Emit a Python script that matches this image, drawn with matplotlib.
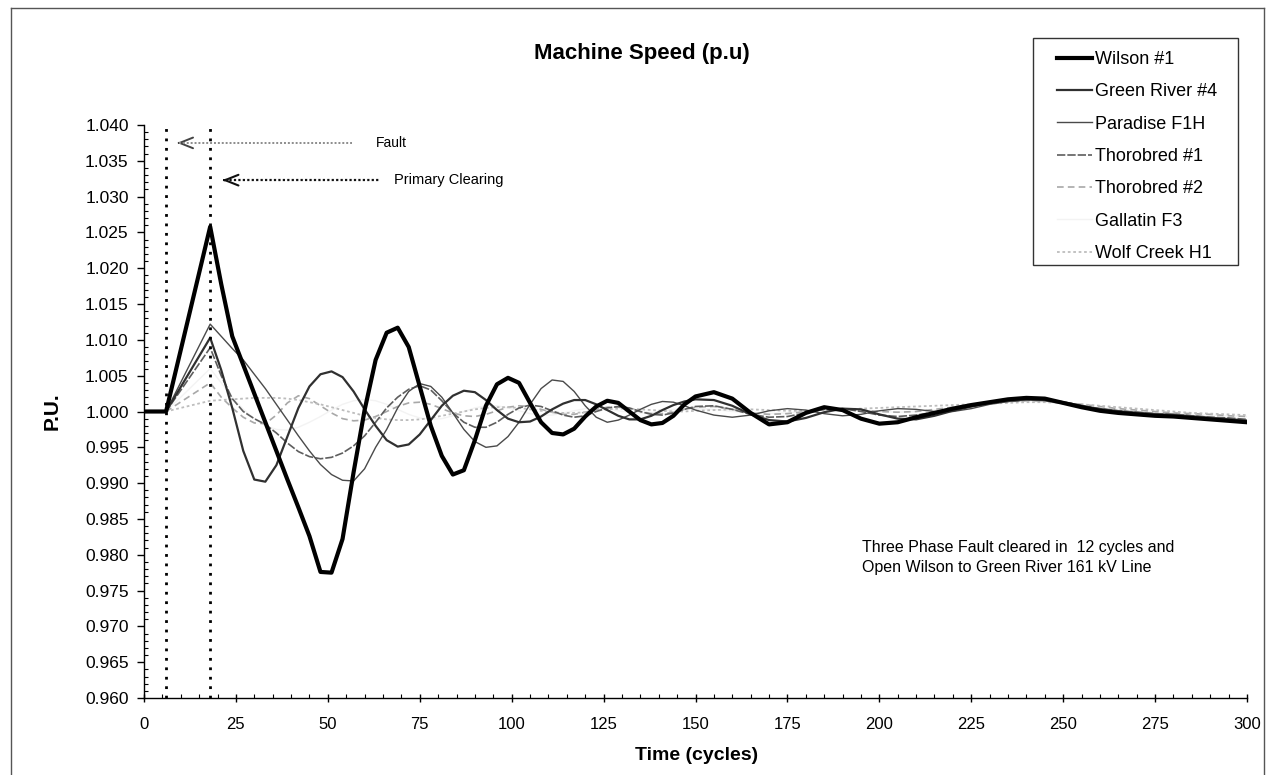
import matplotlib
matplotlib.use('Agg')
import matplotlib.pyplot as plt
from matplotlib.ticker import MultipleLocator, FormatStrFormatter
from matplotlib.patches import Rectangle
from matplotlib.lines import Line2D

plt.rcParams['font.family'] = ['Liberation Sans', 'DejaVu Sans']

# ---------------- data ----------------
cycles = [0, 6] + list(range(18, 151, 3)) + list(range(155, 301, 5))

wilson_1 = [1.0000, 1.0000, 1.0258, 1.0178, 1.0105, 1.0065, 1.0025, 0.9985, 0.9945, 0.9905,
            0.9866, 0.9826, 0.9776, 0.9775, 0.9822, 0.9915, 1.0002, 1.0072, 1.0110, 1.0117,
            1.0090, 1.0035, 0.9980, 0.9938, 0.9912, 0.9918, 0.9960, 1.0008, 1.0038, 1.0047,
            1.0040, 1.0012, 0.9985, 0.9970, 0.9968, 0.9976, 0.9993, 1.0007, 1.0015, 1.0012,
            1.0000, 0.9988, 0.9982, 0.9984, 0.9994, 1.0010, 1.0021,
            1.0027, 1.0018, 0.9998, 0.9982, 0.9985, 0.9998, 1.0006, 1.0002, 0.9990, 0.9983,
            0.9985, 0.9992, 0.9998, 1.0004, 1.0009, 1.0013, 1.0017, 1.0019, 1.0018, 1.0012,
            1.0006, 1.0001, 0.9998, 0.9996, 0.9994, 0.9993, 0.9991, 0.9989, 0.9987, 0.9985]

green_river_4 = [1.0000, 1.0000, 1.0103, 1.0058, 1.0005, 0.9945, 0.9905, 0.9902, 0.9925, 0.9965,
                 1.0005, 1.0035, 1.0052, 1.0056, 1.0048, 1.0028, 1.0003, 0.9980, 0.9960, 0.9951,
                 0.9954, 0.9968, 0.9988, 1.0008, 1.0022, 1.0029, 1.0027, 1.0016, 1.0002, 0.9990,
                 0.9985, 0.9986, 0.9993, 1.0003, 1.0011, 1.0016, 1.0016, 1.0010, 1.0002, 0.9994,
                 0.9989, 0.9989, 0.9994, 1.0002, 1.0009, 1.0014, 1.0017,
                 1.0016, 1.0008, 0.9996, 0.9988, 0.9986, 0.9991, 0.9999, 1.0004, 1.0003, 0.9996,
                 0.9990, 0.9989, 0.9994, 1.0001, 1.0007, 1.0012, 1.0016, 1.0018, 1.0017, 1.0013,
                 1.0008, 1.0003, 1.0000, 0.9997, 0.9995, 0.9994, 0.9992, 0.9990, 0.9988, 0.9986]

paradise_f1h = [1.0000, 1.0000, 1.0122, 1.0105, 1.0088, 1.0072, 1.0052, 1.0032, 1.0010, 0.9988,
                0.9966, 0.9945, 0.9926, 0.9912, 0.9904, 0.9903, 0.9920, 0.9950, 0.9975, 1.0005,
                1.0028, 1.0039, 1.0035, 1.0020, 0.9998, 0.9975, 0.9958, 0.9950, 0.9952, 0.9965,
                0.9985, 1.0010, 1.0032, 1.0044, 1.0042, 1.0028, 1.0008, 0.9992, 0.9985, 0.9988,
                0.9995, 1.0003, 1.0010, 1.0014, 1.0013, 1.0008, 1.0002,
                0.9995, 0.9992, 0.9995, 1.0001, 1.0004, 1.0002, 0.9997, 0.9994, 0.9996, 1.0001,
                1.0004, 1.0003, 1.0000, 1.0000, 1.0004, 1.0010, 1.0014, 1.0016, 1.0015, 1.0011,
                1.0007, 1.0004, 1.0001, 0.9999, 0.9997, 0.9996, 0.9994, 0.9992, 0.9990, 0.9988]

thorobred_1 = [1.0000, 1.0000, 1.0089, 1.0050, 1.0018, 1.0000, 0.9990, 0.9982, 0.9970, 0.9956,
               0.9944, 0.9937, 0.9934, 0.9936, 0.9942, 0.9952, 0.9966, 0.9985, 1.0005, 1.0020,
               1.0031, 1.0036, 1.0030, 1.0015, 0.9998, 0.9985, 0.9978, 0.9978, 0.9985, 0.9996,
               1.0005, 1.0009, 1.0007, 1.0001, 0.9995, 0.9992, 0.9994, 1.0000, 1.0005, 1.0007,
               1.0005, 1.0000, 0.9996, 0.9995, 0.9998, 1.0003, 1.0007,
               1.0008, 1.0003, 0.9996, 0.9992, 0.9993, 0.9998, 1.0003, 1.0004, 1.0000, 0.9995,
               0.9993, 0.9995, 0.9999, 1.0003, 1.0007, 1.0011, 1.0014, 1.0016, 1.0016, 1.0012,
               1.0008, 1.0004, 1.0001, 0.9999, 0.9997, 0.9996, 0.9994, 0.9992, 0.9991, 0.9989]

thorobred_2 = [1.0000, 1.0000, 1.0040, 1.0020, 1.0005, 0.9992, 0.9984, 0.9983, 0.9995, 1.0012,
               1.0022, 1.0018, 1.0008, 0.9998, 0.9990, 0.9987, 0.9988, 0.9993, 1.0000, 1.0007,
               1.0012, 1.0013, 1.0010, 1.0004, 0.9998, 0.9994, 0.9993, 0.9996, 1.0001, 1.0006,
               1.0008, 1.0007, 1.0003, 0.9999, 0.9996, 0.9996, 0.9999, 1.0003, 1.0006, 1.0006,
               1.0004, 1.0000, 0.9997, 0.9997, 0.9999, 1.0003, 1.0006,
               1.0007, 1.0003, 0.9998, 0.9996, 0.9997, 1.0000, 1.0003, 1.0004, 1.0002, 1.0000,
               0.9999, 1.0000, 1.0003, 1.0006, 1.0009, 1.0012, 1.0014, 1.0015, 1.0015, 1.0013,
               1.0010, 1.0007, 1.0004, 1.0002, 1.0000, 0.9998, 0.9997, 0.9996, 0.9994, 0.9993]

gallatin_f3 = [1.0000, 1.0000, 1.0060, 1.0040, 1.0020, 1.0003, 0.9990, 0.9980, 0.9975, 0.9974,
               0.9978, 0.9985, 0.9993, 1.0002, 1.0010, 1.0015, 1.0017, 1.0015, 1.0010, 1.0003,
               0.9996, 0.9991, 0.9989, 0.9990, 0.9994, 1.0000, 1.0005, 1.0008, 1.0008, 1.0005,
               1.0001, 0.9997, 0.9995, 0.9995, 0.9998, 1.0001, 1.0004, 1.0005, 1.0004, 1.0001,
               0.9999, 0.9998, 0.9998, 1.0000, 1.0003, 1.0004, 1.0004,
               1.0003, 1.0000, 0.9998, 0.9997, 0.9998, 1.0000, 1.0002, 1.0003, 1.0002, 1.0000,
               0.9999, 1.0000, 1.0002, 1.0005, 1.0008, 1.0011, 1.0013, 1.0014, 1.0013, 1.0011,
               1.0008, 1.0005, 1.0003, 1.0001, 0.9999, 0.9998, 0.9996, 0.9995, 0.9994, 0.9993]

wolf_creek_h1 = [1.0000, 1.0000, 1.0015, 1.0016, 1.0017, 1.0018, 1.0019, 1.0019, 1.0019, 1.0018,
                 1.0016, 1.0013, 1.0010, 1.0006, 1.0002, 0.9998, 0.9994, 0.9991, 0.9989, 0.9988,
                 0.9988, 0.9989, 0.9991, 0.9994, 0.9997, 1.0000, 1.0003, 1.0005, 1.0006, 1.0006,
                 1.0005, 1.0003, 1.0001, 0.9999, 0.9998, 0.9998, 0.9999, 1.0001, 1.0003, 1.0004,
                 1.0004, 1.0003, 1.0002, 1.0001, 1.0000, 1.0000, 1.0001,
                 1.0002, 1.0003, 1.0003, 1.0002, 1.0001, 1.0001, 1.0002, 1.0003, 1.0004, 1.0005,
                 1.0006, 1.0007, 1.0008, 1.0009, 1.0010, 1.0011, 1.0012, 1.0013, 1.0013, 1.0012,
                 1.0010, 1.0008, 1.0006, 1.0004, 1.0002, 1.0000, 0.9998, 0.9997, 0.9996, 0.9995]

series_labels = ['Wilson #1', 'Green River #4', 'Paradise F1H', 'Thorobred #1',
                 'Thorobred #2', 'Gallatin F3', 'Wolf Creek H1']
fault_cycle = 6
clearing_cycle = 18
x_ticks = list(range(0, 301, 25))

# ---------------- figure ----------------
W, H = 1268, 775
fig = plt.figure(figsize=(W / 100, H / 100), dpi=100)


def fx(px):
    return px / W


def fy(py):
    return 1 - py / H


ax = fig.add_axes([fx(144), fy(698), fx(1247) - fx(144), fy(125) - fy(698)])

styles = {
    'Wilson #1': dict(color='black', lw=3.0, ls='-', zorder=10),
    'Green River #4': dict(color='#303030', lw=1.6, ls='-', zorder=9),
    'Paradise F1H': dict(color='#4a4a4a', lw=1.0, ls='-', zorder=8),
    'Thorobred #1': dict(color='#5e5e5e', lw=1.2, ls=(0, (5, 1.2)), zorder=7),
    'Thorobred #2': dict(color='#a8a8a8', lw=1.2, ls=(0, (4, 2.5)), zorder=6),
    'Gallatin F3': dict(color='#f3f3f3', lw=1.0, ls='-', zorder=5),
    'Wolf Creek H1': dict(color='#bdbdbd', lw=1.3, ls=(0, (1.5, 1.5)), zorder=6),
}
data = {
    'Wilson #1': wilson_1,
    'Green River #4': green_river_4,
    'Paradise F1H': paradise_f1h,
    'Thorobred #1': thorobred_1,
    'Thorobred #2': thorobred_2,
    'Gallatin F3': gallatin_f3,
    'Wolf Creek H1': wolf_creek_h1,
}

handles = []
for name in series_labels:
    st = styles[name]
    ln, = ax.plot(cycles, data[name], color=st['color'], lw=st['lw'],
                  linestyle=st['ls'], zorder=st['zorder'], label=name)
    handles.append(ln)

ax.set_xlim(0, 300)
ax.set_ylim(0.960, 1.040)

# vertical dotted event lines
for c in (fault_cycle, clearing_cycle):
    ax.axvline(c, ymin=0, ymax=0.996, color='black', lw=2.0,
               linestyle=(0, (1.0, 2.4)), zorder=11)

# annotation arrows
ax.plot([9.6, 56.6], [1.0375, 1.0375], color='#8c8c8c', lw=1.4,
        linestyle=(0, (1, 1)), zorder=11)
ax.annotate('', xy=(9.0, 1.0375), xytext=(9.6, 1.0375),
            arrowprops=dict(arrowstyle='->,head_length=0.8,head_width=0.32',
                            color='#444444', lw=1.4, shrinkA=0, shrinkB=0,
                            mutation_scale=12))
ax.text(63.1, 1.0375, 'Fault', va='center', ha='left', fontsize=10)

ax.plot([21.9, 64.3], [1.0323, 1.0323], color='#111111', lw=1.6,
        linestyle=(0, (1, 1)), zorder=11)
ax.annotate('', xy=(21.3, 1.0323), xytext=(21.9, 1.0323),
            arrowprops=dict(arrowstyle='->,head_length=0.8,head_width=0.32',
                            color='#111111', lw=1.5, shrinkA=0, shrinkB=0,
                            mutation_scale=12))
ax.text(68.0, 1.0323, 'Primary Clearing', va='center', ha='left', fontsize=10.5)

ax.text(195.3, 0.9796,
        'Three Phase Fault cleared in  12 cycles and\nOpen Wilson to Green River 161 kV Line',
        va='center', ha='left', fontsize=11.5, linespacing=1.45)

# axes styling
for s in ('top', 'right'):
    ax.spines[s].set_visible(False)
for s in ('left', 'bottom'):
    ax.spines[s].set_linewidth(1.0)
    ax.spines[s].set_color('black')

ax.set_xticks(x_ticks)
ax.xaxis.set_minor_locator(MultipleLocator(5))
ax.yaxis.set_major_locator(MultipleLocator(0.005))
ax.yaxis.set_minor_locator(MultipleLocator(0.001))
ax.yaxis.set_major_formatter(FormatStrFormatter('%.3f'))

ax.tick_params(axis='x', which='major', direction='inout', length=6, width=1,
               pad=11, labelsize=12)
ax.tick_params(axis='x', which='minor', direction='in', length=3, width=0.8)
ax.tick_params(axis='y', which='major', direction='out', length=5, width=1,
               pad=6, labelsize=12.5)
ax.tick_params(axis='y', which='minor', direction='in', length=3, width=0.8)

# titles / labels
fig.text(fx(642), fy(53), 'Machine Speed (p.u)', ha='center', va='center',
         fontsize=16, fontweight='bold')
fig.text(fx(52), fy(411), 'P.U.', ha='center', va='center', rotation=90,
         fontsize=15, fontweight='bold')
fig.text(fx(697), fy(755), 'Time (cycles)', ha='center', va='center',
         fontsize=14, fontweight='bold')

# legend with a hand-placed frame
leg = ax.legend(handles, series_labels, loc='upper left',
                bbox_to_anchor=(fx(1048), fy(42)), bbox_transform=fig.transFigure,
                frameon=False, borderpad=0, handlelength=1.95, handletextpad=0.15,
                labelspacing=0.85, fontsize=13)
fig.add_artist(Rectangle((fx(1033), fy(265)), fx(1238) - fx(1033), fy(38) - fy(265),
                         transform=fig.transFigure, fill=False,
                         edgecolor='#333333', lw=1.0))

# outer figure frame
frame_kw = dict(transform=fig.transFigure, color='#555555', lw=1.0)
fig.add_artist(Line2D([fx(10.5), fx(10.5)], [0, fy(8)], **frame_kw))
fig.add_artist(Line2D([fx(10.5), fx(1264)], [fy(8), fy(8)], **frame_kw))
fig.add_artist(Line2D([fx(1264), fx(1264)], [0, fy(8)], **frame_kw))

fig.savefig('out.png', dpi=100)
